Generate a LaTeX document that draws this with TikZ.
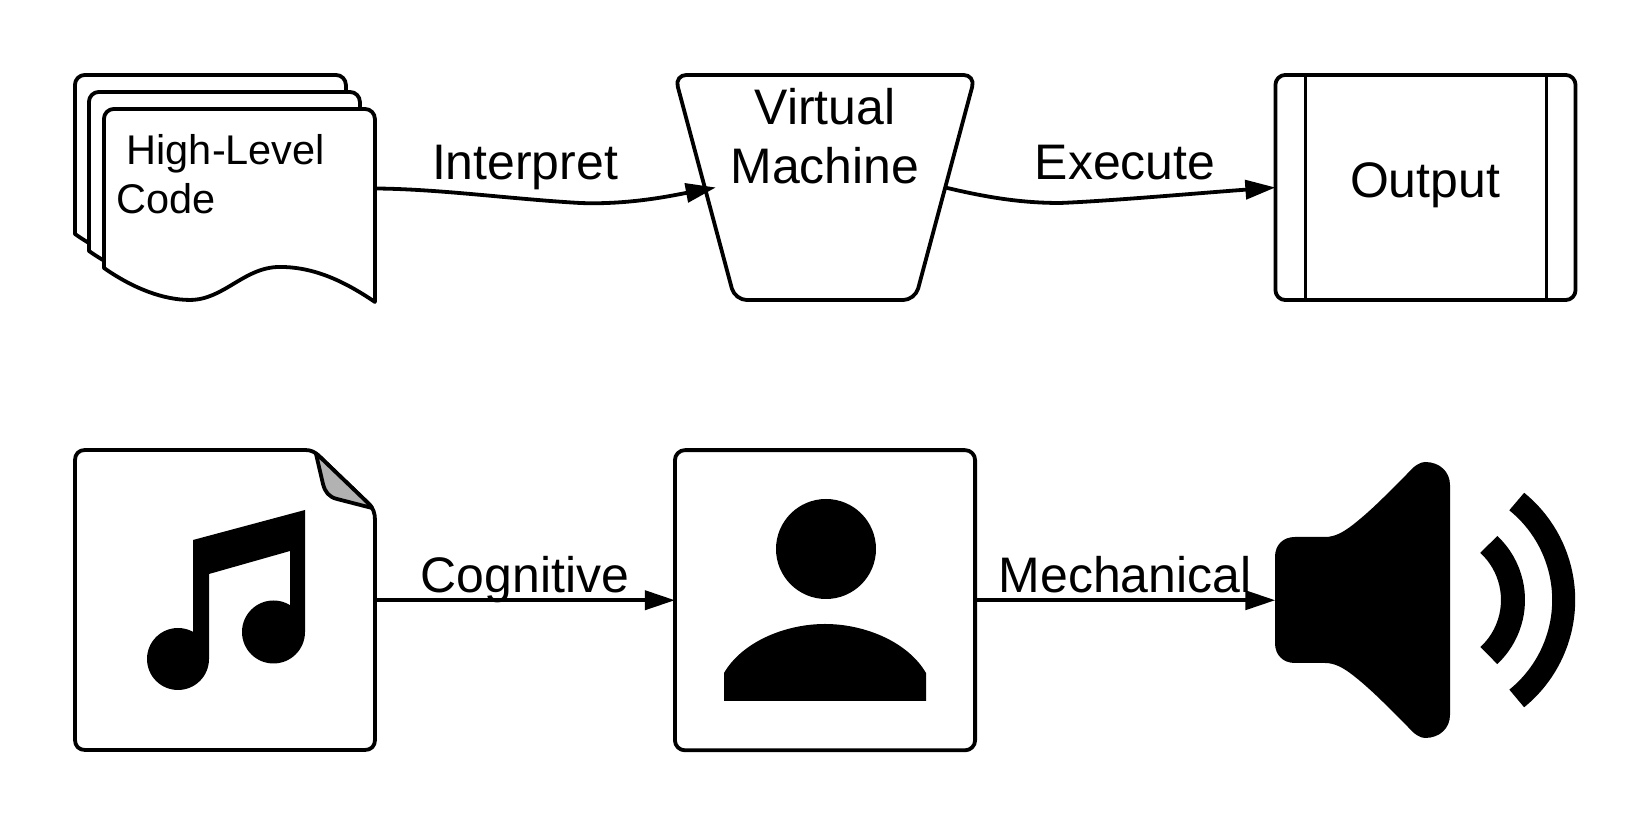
\documentclass[tikz,border=0pt]{standalone}
\usepackage{fontspec}
\setmainfont{Liberation Sans}
\usetikzlibrary{arrows.meta,positioning,shapes.geometric}
\tikzset{
  docsheet/.pic={
    \draw[sheetline, fill=white, rounded corners=0.1cm] (0,159) -- (0,0) -- (271,0) -- (271,30) [sharp corners] -- (271,193)
      .. controls (240,172) and (210,158) .. (176,158)
      .. controls (140,158) and (120,191) .. (86,191)
      .. controls (60,191) and (30,180) .. (0,159) -- cycle;
  }
}
\begin{document}
\begin{tikzpicture}[
    x=0.01cm, y=-0.01cm,
    sheetline/.style={line width=0.038cm, line join=round},
    box/.style={draw, sheetline, rounded corners=0.1cm, outer sep=0pt, minimum width=3cm, minimum height=3cm},
    blank/.style={outer sep=0pt, inner sep=0pt},
    vmbox/.style={draw, sheetline, trapezium, shape border rotate=180, trapezium left angle=75, trapezium right angle=75, rounded corners=0.12cm, outer sep=0pt, inner sep=0pt, text width=1.8cm, text height=2.25cm, text depth=0cm},
    label/.style={font=\fontsize{14.2}{17}\selectfont, anchor=base, inner sep=0pt, align=center},
    arrow/.style={-{Triangle[length=0.3cm, width=0.19cm]}, sheetline}
  ]
    \useasboundingbox (0,0) rectangle (1650,825);

    \node[blank, minimum width=2.71cm, minimum height=1.59cm] (code) at (239.5,188.5) {};
    \pic at ([shift={(-29,-34)}]code.north west) {docsheet};
    \pic at ([shift={(-15,-17)}]code.north west) {docsheet};
    \pic at (code.north west) {docsheet};
    \node[vmbox] (vm) at (825,187.5) {};
    \node[box, minimum height=2.25cm, right=3.3cm of vm] (output) {};
    \node[box, below=1.5cm of vm] (person) {};
    \node[blank, minimum width=3cm, minimum height=3cm, left=3cm of person] (song) {};
    \node[blank, minimum width=3cm, minimum height=3cm, right=3cm of person] (speaker) {};

    \draw[sheetline] ([xshift=0.3cm]output.north west) -- ([xshift=0.3cm]output.south west);
    \draw[sheetline] ([xshift=-0.29cm]output.north east) -- ([xshift=-0.29cm]output.south east);

    \node[font=\fontsize{11.8}{14.2}\selectfont, inner sep=0pt, align=left, anchor=base west] (codetext) at (116,214) {\hspace*{0.1cm}High-Level\\Code};
    \node[label] (vmtext) at (825,184) {Virtual\\Machine};
    \node[label] (outputtext) at (1425,198) {Output};
    \node[label] (interpret) at (525,180) {Interpret};
    \node[label] (execute) at (1125,180) {Execute};
    \node[label] (cognitive) at (525,593) {Cognitive};
    \node[label] (mechanical) at (1125,593) {Mechanical};

    \coordinate (interpretbend) at (580,203);
    \coordinate (executebend) at (1060,203);
    \coordinate (vmin) at ([xshift=0.11cm]vm.west);
    \draw[arrow] (code.east) .. controls (440,189) and (510,199) .. (interpretbend)
      .. controls (630,205) and (675,195) .. (vmin);
    \draw[arrow] (vm.east) .. controls (985,197) and (1020,203) .. (executebend)
      .. controls (1110,201) and (1200,193) .. (output.west);
    \draw[arrow] (song.east) -- (person.west);
    \draw[arrow] (person.east) -- (speaker.west);

    \draw[sheetline] (85,450) -- (305,450) .. controls (311,450) and (315,452) .. (319,456) -- (369,504)
      .. controls (373,508) and (375,513) .. (375,520) -- (375,740)
      .. controls (375,746) and (371,750) .. (365,750) -- (85,750)
      .. controls (79,750) and (75,746) .. (75,740) -- (75,460)
      .. controls (75,454) and (79,450) .. (85,450) -- cycle;
    \draw[sheetline, fill=black!30] (316,454) -- (323,484) .. controls (325,492) and (329,497) .. (337,499)
      -- (372,508) .. controls (371,506) and (370,505) .. (369,504) -- (319,456) .. controls (318,455) and (317,454) .. (316,454) -- cycle;

    \fill (193,540) -- (305,510) -- (305,632) -- (290,632) -- (290,551) -- (209,574) -- (209,659)
      -- (193,659) -- cycle;
    \fill (178,659) circle[radius=31];
    \fill (273.5,632) circle[radius=31.5];

    \fill (826,549) circle[radius=50];
    \fill (724,701) -- (724,673) .. controls (742,642) and (785,624) .. (825,624)
      .. controls (865,624) and (908,642) .. (926,673) -- (926,701) -- cycle;

    \fill (1295,537) -- (1325,537) .. controls (1335,537) and (1343,532) .. (1350,527) .. controls (1370,512) and (1388,493) .. (1408,473)
      .. controls (1414,466) and (1420,462) .. (1425,462) .. controls (1440,462) and (1450,472) .. (1450,485)
      -- (1450,715) .. controls (1450,728) and (1440,738) .. (1425,738) .. controls (1420,738) and (1414,734) .. (1408,727)
      .. controls (1388,707) and (1370,688) .. (1350,673) .. controls (1343,668) and (1335,663) .. (1325,663)
      -- (1295,663) .. controls (1283,663) and (1275,655) .. (1275,643) -- (1275,557) .. controls (1275,545) and (1283,537) .. (1295,537) -- cycle;
    \draw[line width=0.24cm] (1437,600) ++(47:76) arc[start angle=47, end angle=-47, radius=76];
    \draw[line width=0.23cm] (1437,600) ++(51:126.7) arc[start angle=51, end angle=-51, radius=126.7];
\end{tikzpicture}
\end{document}
